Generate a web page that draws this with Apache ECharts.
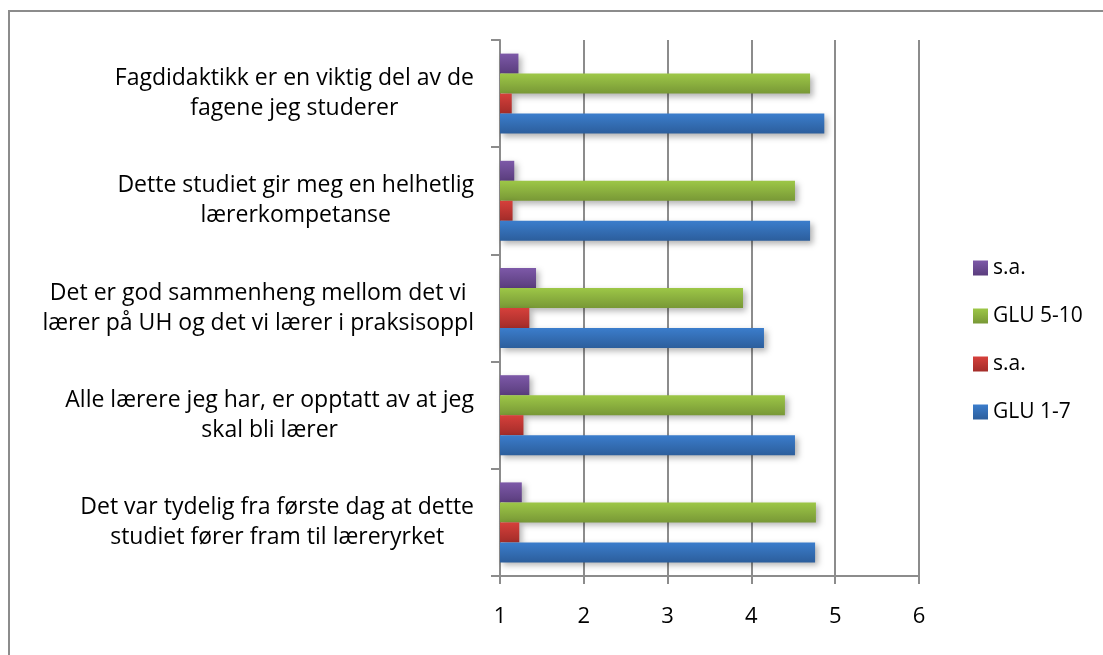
<!DOCTYPE html>
<html>
<head>
<meta charset="utf-8">
<script src="https://cdn.jsdelivr.net/npm/echarts@6/dist/echarts.min.js"></script>
<style>
  * { margin: 0; padding: 0; }
  html, body { width: 1103px; height: 655px; background: #fff; overflow: hidden; }
  #chart { width: 1103px; height: 655px; }
</style>
</head>
<body>
<div id="chart"></div>
<script>
// categories, bottom to top
const categories = [
  'Det var tydelig fra første dag at dette\nstudiet fører fram til læreryrket',
  'Alle lærere jeg har, er opptatt av at jeg\nskal bli lærer',
  'Det er god sammenheng mellom det vi\nlærer på UH og det vi lærer i praksisoppl',
  'Dette studiet gir meg en helhetlig\nlærerkompetanse',
  'Fagdidaktikk er en viktig del av de\nfagene jeg studerer'
]
const glu17 = [4.76, 4.52, 4.15, 4.70, 4.87]
const sa17 = [1.23, 1.28, 1.35, 1.15, 1.14]
const glu510 = [4.77, 4.40, 3.90, 4.52, 4.70]
const sa510 = [1.26, 1.35, 1.43, 1.17, 1.22]
const xTicks = [1, 2, 3, 4, 5, 6]

const font = "'Open Sans', sans-serif"
const grad = (top, bottom) => new echarts.graphic.LinearGradient(0, 0, 0, 1, [
  { offset: 0, color: top },
  { offset: 1, color: bottom }
])

const makeSeries = (id, data, top, bottom) => ({
  id: id,
  name: id,
  type: 'bar',
  data: data,
  barWidth: 20,
  barGap: '0%',
  itemStyle: {
    color: grad(top, bottom),
    shadowColor: 'rgba(0,0,0,0.3)',
    shadowBlur: 6,
    shadowOffsetX: 3,
    shadowOffsetY: 3
  }
})

const legendText = { glu17: 'GLU 1-7', sa17: 's.a.', glu510: 'GLU 5-10', sa510: 's.a.' }

const chart = echarts.init(document.getElementById('chart'))
chart.setOption({
  backgroundColor: '#fff',
  animation: false,
  textStyle: { fontFamily: font },
  grid: { left: 500, right: 184, top: 40, bottom: 79 },
  legend: {
    orient: 'vertical',
    left: 968,
    top: 252,
    itemWidth: 15,
    itemHeight: 15,
    itemGap: 26,
    icon: 'rect',
    data: ['sa510', 'glu510', 'sa17', 'glu17'],
    formatter: n => legendText[n],
    textStyle: { fontSize: 21, lineHeight: 22, color: '#000', fontFamily: font }
  },
  xAxis: {
    type: 'value',
    min: xTicks[0],
    max: xTicks[xTicks.length - 1],
    interval: 1,
    axisLine: { show: true, lineStyle: { color: '#8c8c8c', width: 2 } },
    axisTick: { show: true, length: 8, lineStyle: { color: '#8c8c8c', width: 2 } },
    splitLine: { show: true, lineStyle: { color: '#8c8c8c', width: 2 } },
    axisLabel: { margin: 30, fontSize: 22, color: '#000', fontFamily: font }
  },
  yAxis: {
    type: 'category',
    data: categories,
    axisLine: { show: true, lineStyle: { color: '#8c8c8c', width: 2 } },
    axisTick: { show: true, length: 9, lineStyle: { color: '#8c8c8c', width: 2 } },
    axisLabel: {
      margin: 26,
      align: 'right',
      color: '#000',
      formatter: v => v.split('\n').map(l => '{c|' + l + '}').join('\n'),
      rich: {
        c: { align: 'center', fontSize: 23, lineHeight: 30, color: '#000', fontFamily: font }
      }
    }
  },
  // series 0 sits at the top of each band
  series: [
    makeSeries('sa510', sa510, '#7d59a8', '#5a3d7d'),
    makeSeries('glu510', glu510, '#9dc747', '#789836'),
    makeSeries('sa17', sa17, '#d6403b', '#a32c29'),
    makeSeries('glu17', glu17, '#3b7dcc', '#2c5e9c')
  ],
  graphic: [
    { type: 'line', shape: { x1: 8, y1: 11, x2: 1103, y2: 11 }, style: { stroke: '#8c8c8c', lineWidth: 2 } },
    { type: 'line', shape: { x1: 9, y1: 10, x2: 9, y2: 655 }, style: { stroke: '#8c8c8c', lineWidth: 2 } }
  ]
})
</script>
</body>
</html>
